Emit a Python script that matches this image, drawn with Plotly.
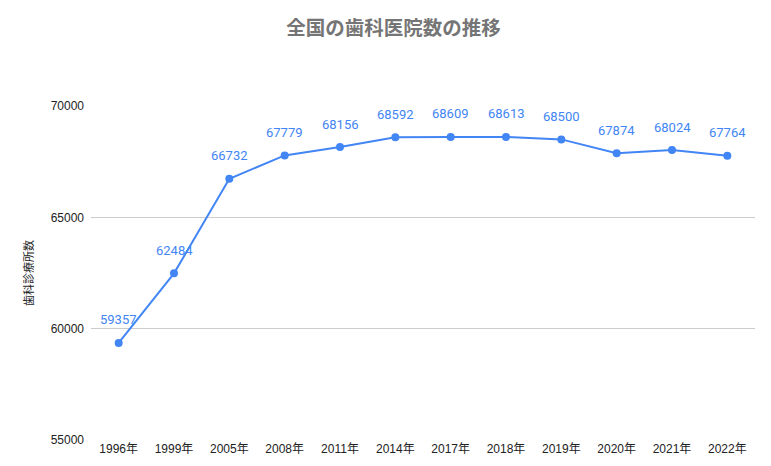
import plotly.graph_objects as go

years = ["1996年", "1999年", "2005年", "2008年", "2011年", "2014年",
         "2017年", "2018年", "2019年", "2020年", "2021年", "2022年"]
clinics = [59357, 62484, 66732, 67779, 68156, 68592,
           68609, 68613, 68500, 67874, 68024, 67764]
y_ticks = [55000, 60000, 65000, 70000]

font = "'Liberation Sans', Arial, 'Noto Sans CJK JP', sans-serif"
label_font = "Roboto, 'Noto Sans', sans-serif"
blue = "#4285F4"

fig = go.Figure()
fig.add_trace(go.Scatter(
    x=years, y=clinics,
    mode="lines+markers",
    line=dict(color=blue, width=2),
    marker=dict(color=blue, size=8),
    showlegend=False,
))

# value labels above the points
for yr, v in zip(years, clinics):
    fig.add_annotation(x=yr, y=v, text=str(v), showarrow=False,
                       yshift=23, font=dict(color=blue, size=13, family=label_font))

fig.update_layout(
    width=771, height=466,
    margin=dict(l=83, r=24, t=98, b=34),
    paper_bgcolor="white", plot_bgcolor="white",
    font=dict(family=font, color="#222222", size=12),
    title=dict(text="<b>全国の歯科医院数の推移</b>", x=0.5, xanchor="center",
               y=1 - 20 / 466, yanchor="middle",
               font=dict(size=19.5, color="#757575",
                         family="'Noto Sans CJK JP', sans-serif")),
)
fig.update_xaxes(type="category", range=[-0.5, 11.5], showgrid=False,
                 showline=False, ticks="", tickfont=dict(size=12, color="#222222"))
fig.update_yaxes(range=[55000, 70000], tickvals=y_ticks,
                 ticktext=[str(v) for v in y_ticks],
                 showgrid=True, gridcolor="#cccccc", gridwidth=1,
                 zeroline=False, ticks="", ticklabelstandoff=6,
                 title=dict(text="歯科診療所数",
                            font=dict(size=11, color="#222222",
                                      family="'Noto Sans CJK JP', sans-serif"),
                            standoff=14),
                 tickfont=dict(size=12, color="#222222"))

fig.write_html("out.html")
